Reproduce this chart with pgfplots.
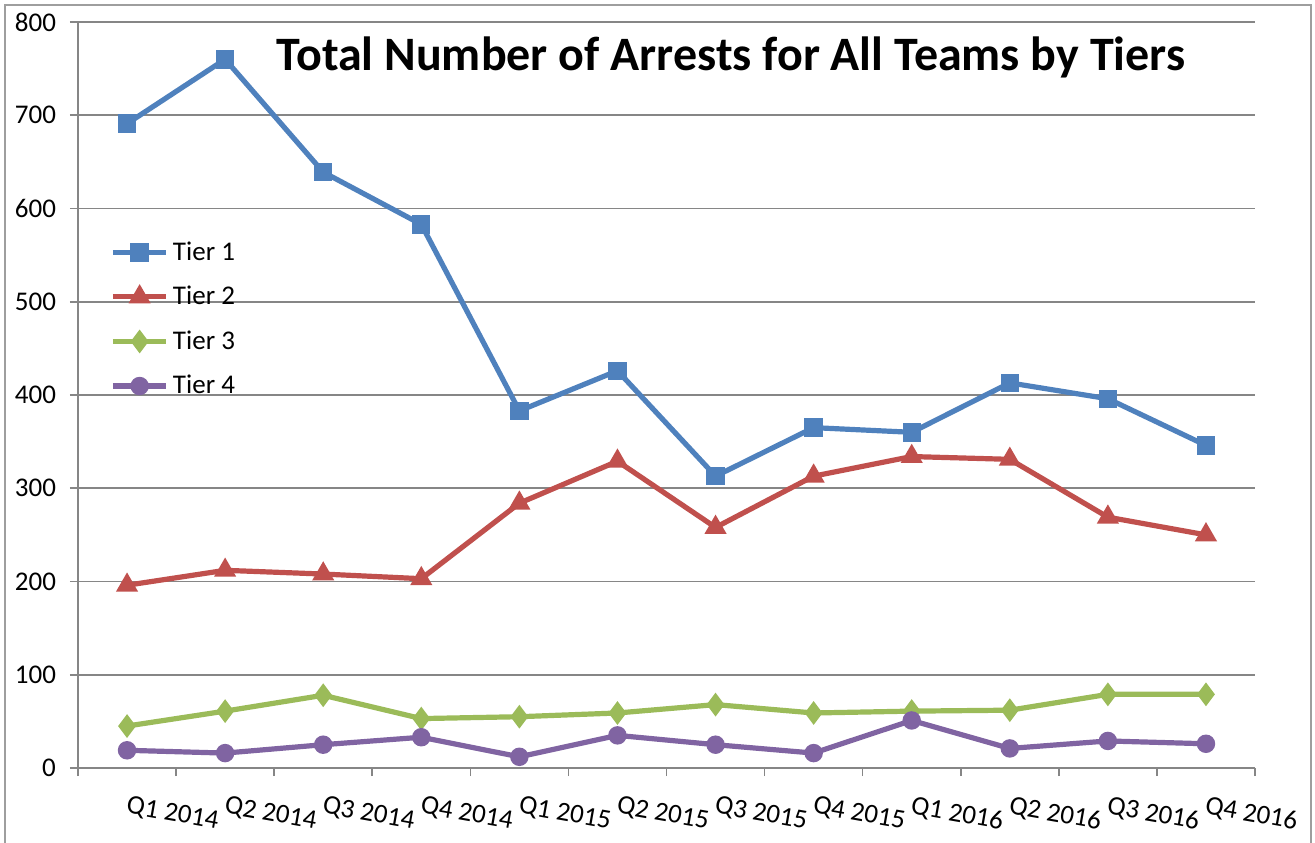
\documentclass[border=0pt]{standalone}
\usepackage{fontspec}
\setmainfont{Carlito}
\usepackage{pgfplots}
\pgfplotsset{compat=1.18}

\definecolor{tierA}{HTML}{4F81BD}
\definecolor{tierB}{HTML}{C0504D}
\definecolor{tierC}{HTML}{9BBB59}
\definecolor{tierD}{HTML}{8064A2}
\definecolor{gridgray}{HTML}{868686}

\begin{document}
\begin{tikzpicture}
\useasboundingbox (-39pt,-37pt) rectangle (618.5pt,384pt);
\draw[gridgray!80, line width=0.6pt] (-36.5pt,-45pt) rectangle (616.5pt,381.5pt);
\begin{axis}[
    at={(0,0)}, anchor=south west,
    width=588.5pt, height=373pt, scale only axis,
    xmin=-0.5, xmax=11.5,
    ymin=0, ymax=800,
    ytick={0,100,...,800},
    xtick={0,...,11},
    xticklabels={Q1 2014,Q2 2014,Q3 2014,Q4 2014,Q1 2015,Q2 2015,Q3 2015,Q4 2015,Q1 2016,Q2 2016,Q3 2016,Q4 2016},
    minor xtick={-0.5,0.5,...,11.5},
    major x tick style={draw=none},
    minor x tick style={gridgray, line width=0.8pt},
    minor tick length=4pt,
    major tick length=4pt,
    tick align=outside,
    tick pos=left,
    ymajorgrids,
    grid style={gridgray, line width=0.8pt},
    y tick style={gridgray, line width=0.8pt},
    axis x line*=bottom,
    axis y line*=left,
    axis line style={gridgray, line width=0.8pt},
    tick label style={font=\fontsize{13.5}{15}\selectfont, text=black},
    xticklabel style={rotate=-10, anchor=north west, xshift=-1pt, yshift=-6pt},
    yticklabel style={xshift=-3.5pt},
    /pgf/number format/assume math mode=true,
    legend style={draw=none, fill=none, at={(0.022,0.717)}, anchor=north west,
        font=\fontsize{13.5}{15}\selectfont, row sep=7.5pt,
        /tikz/every even column/.append style={column sep=0pt},
        /tikz/every odd column/.append style={inner xsep=1pt}},
    legend cell align=left,
    legend image code/.code={
        \draw[mark repeat=2,mark phase=2] plot coordinates {(0cm,0cm) (0.47cm,0cm) (0.94cm,0cm)};
    },
    every axis plot/.append style={line width=2.6pt, mark size=3.3pt},
]
\addplot[tierA, mark=square*, mark options={solid}] coordinates {
(0,691)(1,760)(2,639)(3,583)(4,383)(5,426)(6,313)(7,365)(8,360)(9,413)(10,396)(11,346)
};
\addlegendentry{Tier 1}
\addplot[tierB, mark=triangle*, mark size=3.8pt] coordinates {
(0,196)(1,212)(2,208)(3,203)(4,284)(5,329)(6,258)(7,313)(8,334)(9,331)(10,269)(11,250)
};
\addlegendentry{Tier 2}
\addplot[tierC, mark=diamond*, mark size=3.8pt] coordinates {
(0,45)(1,61)(2,78)(3,53)(4,55)(5,59)(6,68)(7,59)(8,61)(9,62)(10,79)(11,79)
};
\addlegendentry{Tier 3}
\addplot[tierD, mark=*] coordinates {
(0,19)(1,16)(2,25)(3,33)(4,12)(5,35)(6,25)(7,16)(8,51)(9,21)(10,29)(11,26)
};
\addlegendentry{Tier 4}
\end{axis}
\node[font=\bfseries\fontsize{24}{29}\selectfont] at (326.5pt,355.5pt) {Total Number of Arrests for All Teams by Tiers};
\end{tikzpicture}
\end{document}
